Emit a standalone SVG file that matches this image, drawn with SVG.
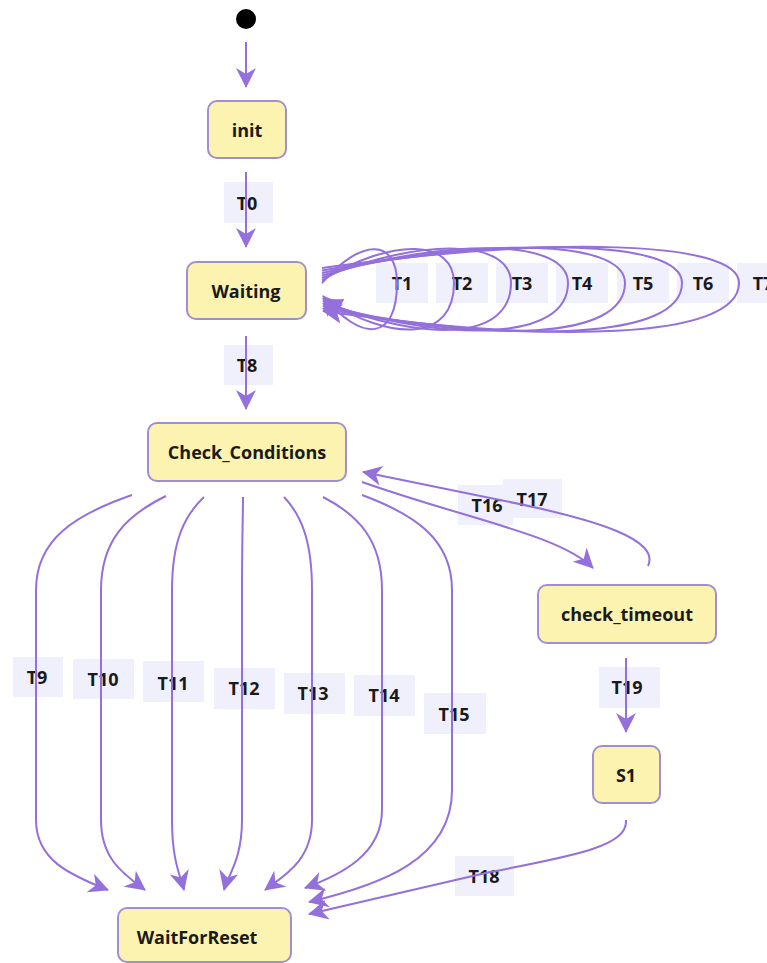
<svg xmlns="http://www.w3.org/2000/svg" width="767" height="963" viewBox="0 0 767 963">
<style>
.node rect{fill:#fdf3b0;stroke:#a08fd0;stroke-width:2}
.node text,.lbl text{font-family:"Open Sans","DejaVu Sans",sans-serif;font-weight:700;font-size:18px;fill:#1a1a1a;text-anchor:middle;dominant-baseline:central}
.lbl rect{fill:#eff0fb}
.edge{fill:none;stroke:#9370db;stroke-width:2;marker-end:url(#arr)}
</style>
<defs>
<marker id="arr" markerUnits="userSpaceOnUse" viewBox="0 0 20 20" markerWidth="20" markerHeight="20" refX="19" refY="10" orient="auto">
<path d="M0,0 L20,10 L0,20 L6,10 z" fill="#9370db"/>
</marker>
</defs>
<rect width="767" height="963" fill="#ffffff"/>
<g id="labels" class="lbl">
<rect x="224" y="182" width="49" height="41"/><text x="247" y="203">T0</text>
<rect x="224" y="345" width="49" height="40"/><text x="247" y="365">T8</text>
<rect x="376" y="263" width="52" height="40"/><text x="402" y="283">T1</text>
<rect x="436" y="263" width="52" height="40"/><text x="462" y="283">T2</text>
<rect x="496" y="263" width="52" height="40"/><text x="522" y="283">T3</text>
<rect x="556" y="263" width="52" height="40"/><text x="582" y="283">T4</text>
<rect x="617" y="263" width="52" height="40"/><text x="643" y="283">T5</text>
<rect x="677" y="263" width="52" height="40"/><text x="703" y="283">T6</text>
<rect x="737" y="263" width="52" height="40"/><text x="763" y="283">T7</text>
<rect x="13" y="657" width="50" height="40"/><text x="37" y="677">T9</text>
<rect x="73" y="659" width="61" height="40"/><text x="103" y="679">T10</text>
<rect x="143" y="661" width="61" height="41"/><text x="173" y="683">T11</text>
<rect x="214" y="668" width="61" height="41"/><text x="244" y="688">T12</text>
<rect x="284" y="673" width="61" height="41"/><text x="313" y="693">T13</text>
<rect x="354" y="675" width="61" height="41"/><text x="384" y="695">T14</text>
<rect x="424" y="693" width="62" height="41"/><text x="454" y="714">T15</text>
<rect x="458" y="485" width="55" height="40"/><text x="487" y="505">T16</text>
<rect x="503" y="479" width="59" height="39"/><text x="532" y="499">T17</text>
<rect x="599" y="667" width="61" height="41"/><text x="627" y="687">T19</text>
<rect x="455" y="856" width="59" height="40"/><text x="484" y="876">T18</text>
</g>
<g id="start"><circle cx="246" cy="19" r="10" fill="#000"/></g>
<g id="init" class="node"><rect x="208" y="101" width="78" height="57" rx="9"/><text x="247" y="130">init</text></g>
<g id="Waiting" class="node"><rect x="187" y="262" width="119" height="57" rx="9"/><text x="246" y="291">Waiting</text></g>
<g id="Check_Conditions" class="node"><rect x="148" y="423" width="198" height="58" rx="9"/><text x="247" y="452">Check_Conditions</text></g>
<g id="check_timeout" class="node"><rect x="538" y="585" width="178" height="58" rx="9"/><text x="627" y="614">check_timeout</text></g>
<g id="S1" class="node"><rect x="593" y="746" width="67" height="57" rx="9"/><text x="626" y="775">S1</text></g>
<g id="WaitForReset" class="node"><rect x="118" y="908" width="173" height="54" rx="9"/><text x="197" y="937">WaitForReset</text></g>
<g id="edges">
<path class="edge" d="M246,42 L246,87"/>
<path class="edge" d="M246,172 L246,247"/>
<path class="edge" d="M246,336 L246,409"/>
<path class="edge" d="M322,283 C363,236 397,240 397,283 C397,340 363,344 323,296"/>
<path class="edge" d="M322,280.5 C395,236 454,240 454,283 C454,340 395,344 323,298.5"/>
<path class="edge" d="M322,278 C426,236 511,240 511,283 C511,340 426,344 323,301"/>
<path class="edge" d="M322,275.5 C457,236 568,240 568,283 C568,340 457,344 323,303.5"/>
<path class="edge" d="M322,273 C489,236 625,240 625,283 C625,340 489,344 323,306"/>
<path class="edge" d="M322,270.5 C520,236 682,240 682,283 C682,340 520,344 323,308.5"/>
<path class="edge" d="M322,268 C551,236 739,240 739,283 C739,340 551,344 323,311"/>
<path class="edge" d="M132,495 C74,515 36,540 36,590 L36,820 C36,860 70,875 108,890"/>
<path class="edge" d="M166,496 C127,515 101,540 101,590 L101,820 C101,860 125,875 145,890"/>
<path class="edge" d="M204,497 C185,515 172,540 172,590 L172,820 C172,860 180,875 184,890"/>
<path class="edge" d="M243,497 C243,515 242,540 242,590 L242,820 C242,860 228,875 224,890"/>
<path class="edge" d="M284,497 C301,515 312,540 312,590 L312,820 C312,860 285,875 265,890"/>
<path class="edge" d="M323,497 C358,515 382,540 382,590 L382,810 C382,855 340,875 305,888"/>
<path class="edge" d="M362,495 C416,515 452,540 452,590 L452,790 C452,860 380,885 309,902"/>
<path class="edge" d="M362,482 C470,520 560,535 593,568"/>
<path class="edge" d="M648,566 C660,540 600,520 500,500 L363,472"/>
<path class="edge" d="M626,658 L626,732"/>
<path class="edge" d="M626,820 C628,845 580,855 490,872 L309,914"/>
</g>
</svg>
